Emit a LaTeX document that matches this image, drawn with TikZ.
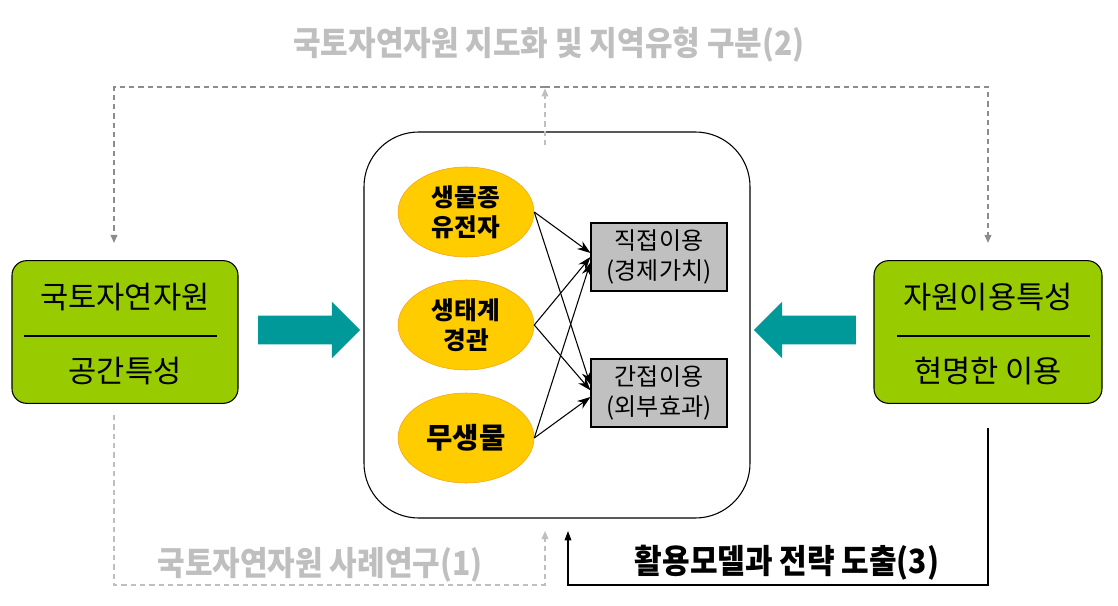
\documentclass[tikz,border=0pt]{standalone}
\usepackage{fontspec}
\setmainfont{Noto Sans CJK KR}
\newfontfamily\condfont[FakeStretch=0.9]{Noto Sans CJK KR}
\usepackage{xcolor}
\usepackage{tikz}
\usetikzlibrary{shapes.geometric, shapes.arrows, arrows.meta, positioning, calc}

\definecolor{leafgreen}{HTML}{99CC00}
\definecolor{tealarrow}{HTML}{009999}
\definecolor{goldfill}{HTML}{FFCC00}
\definecolor{goldline}{HTML}{F7A11A}
\definecolor{boxgray}{HTML}{C0C0C0}
\definecolor{softgray}{HTML}{BFBFBF}
\definecolor{midgray}{HTML}{8C8C8C}

\begin{document}
\begin{tikzpicture}[
        x=0.75pt, y=-0.75pt,
        greenbox/.style={rectangle, draw=black, thick, fill=leafgreen, minimum width=169.5pt, minimum height=107pt, rounded corners=11pt},
        greentext/.style={font=\fontsize{23}{27}\selectfont, inner sep=0pt},
        bigbox/.style={rectangle, draw=black, thick, fill=white, minimum width=289.5pt, minimum height=289.5pt, rounded corners=41pt},
        resource/.style={ellipse, draw=goldline, fill=goldfill, minimum width=102pt, minimum height=67.5pt, align=center, inner sep=0pt, font=\fontsize{18.5}{22.5}\selectfont\bfseries},
        usebox/.style={rectangle, draw=black, thick, fill=boxgray, minimum width=102pt, minimum height=51pt, align=center, inner sep=0pt, font=\fontsize{18}{23}\selectfont},
        fatarrow/.style={single arrow, fill=tealarrow, minimum height=76.5pt, inner sep=0pt, inner ysep=10.5pt, single arrow head extend=10.5pt, single arrow head indent=0pt},
        linkarrow/.style={-{Stealth[length=10pt, width=7pt]}, thick},
        grayloop/.style={midgray, line width=1.1pt, dash pattern=on 4pt off 3pt, -{Triangle[length=6pt, width=5pt]}},
        paleloop/.style={softgray, line width=1.1pt, dash pattern=on 4pt off 3pt, -{Triangle[length=6pt, width=5pt]}},
        steptitle/.style={font=\condfont\bfseries\fontsize{25}{29}\selectfont, inner sep=0pt}
    ]

    \useasboundingbox (0,0) rectangle (1118,606);

    % Left box
    \node (land) [greenbox] at (125,332) {};
    \node (landtop) [greentext] at (125,297) {국토자연자원};
    \node (landbot) [greentext] at (125,371) {공간특성};
    \draw[thick] (24,336) -- (217,336);

    % Right box
    \node (usage) [greenbox, minimum width=171pt] at (988,332) {};
    \node (usagetop) [greentext] at (988,297) {자원이용특성};
    \node (usagebot) [greentext] at (988,371) {현명한 이용};
    \draw[thick] (897,336) -- (1090,336);

    % Big arrows
    \node (toright) [fatarrow] at (302,330) {};
    \node (toleft) [fatarrow, shape border rotate=180] at (812,330) {};

    % Centre box
    \node (core) [bigbox] at (557,325) {};

    \node (species) [resource] at (466,212) {생물종\\유전자};
    \node (ecosys) [resource] at (466,325) {생태계\\경관};
    \node (abiotic) [resource, font=\fontsize{21.5}{25}\selectfont\bfseries] at (466,438) {무생물};

    \node (direct) [usebox] at (659,257) {직접이용\\(경제가치)};
    \node (indirect) [usebox] at (659,393) {간접이용\\(외부효과)};

    \draw[linkarrow] (species.east) -- ([yshift=3pt]direct.west);
    \draw[linkarrow] (species.east) -- ([yshift=6pt]indirect.west);
    \draw[linkarrow] (ecosys.east) -- (direct.west);
    \draw[linkarrow] (ecosys.east) -- ([yshift=2pt]indirect.west);
    \draw[linkarrow] (abiotic.east) -- ([yshift=-4pt]direct.west);
    \draw[linkarrow] (abiotic.east) -- ([yshift=-3pt]indirect.west);

    % Loop (2)
    \coordinate (topmid) at (545,87);
    \coordinate (landin) at (114,243);
    \coordinate (usagein) at (988,243);
    \draw[grayloop] (topmid) -| (landin);
    \draw[grayloop] (topmid) -| (usagein);
    \draw[paleloop] ([yshift=-10.5pt]core.north -| topmid) -- ([yshift=-1pt]topmid);
    \node (mapping) [steptitle, softgray] at (549,45) {국토자연자원 지도화 및 지역유형 구분(2)};

    % Loop (1)
    \coordinate (caseout) at (114,415);
    \coordinate (casein) at (545,531);
    \draw[paleloop] (caseout) |- (545,585) -- (casein);
    \node (casestudy) [steptitle, softgray] at (320,565) {국토자연자원 사례연구(1)};

    % Loop (3)
    \coordinate (modelout) at (988,428);
    \coordinate (modelin) at (568,531);
    \draw[thick, -{Triangle[length=7pt, width=5pt]}] (modelout) |- (568,585) -- (modelin);
    \node (strategy) [steptitle] at (787,563) {활용모델과 전략 도출(3)};

\end{tikzpicture}
\end{document}
